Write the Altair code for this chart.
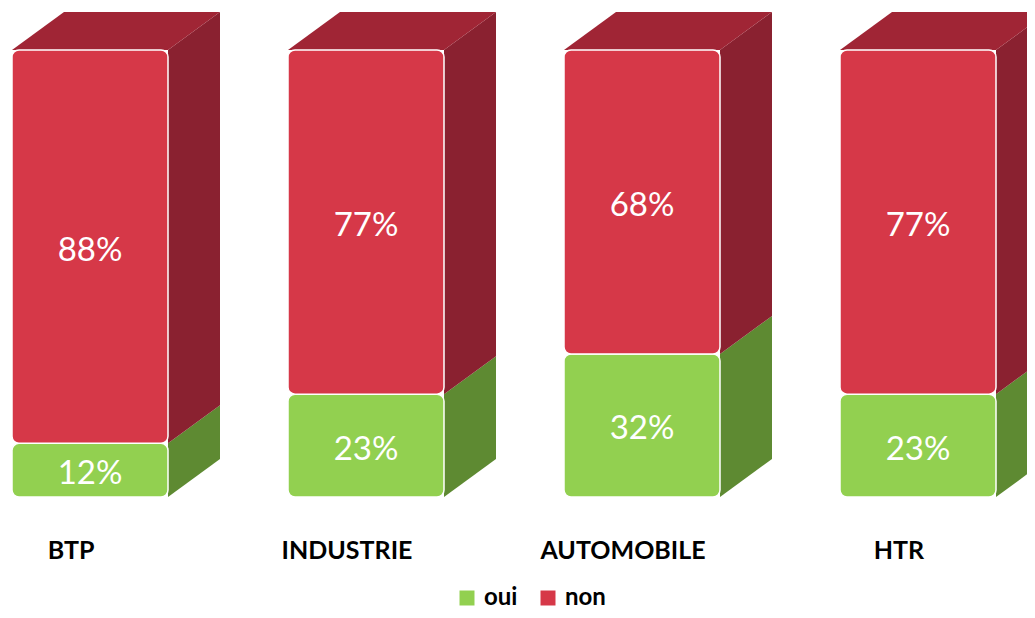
import altair as alt
import pandas as pd

categories = ["BTP", "INDUSTRIE", "AUTOMOBILE", "HTR"]
oui = [12, 23, 32, 23]
non = [88, 77, 68, 77]
series = ["oui", "non"]

GREEN, GREEN_SIDE = "#92D050", "#5E8A32"
RED, RED_SIDE, RED_TOP = "#D63848", "#8A2130", "#A02535"

HW = 0.2826   # half width of front face (category units)
DX = 0.1884   # depth offset in x
DY = 8.5      # depth offset in y (percent units)

seg, side, top = [], [], []
for i, c in enumerate(categories):
    start = 0
    vals = {"oui": oui[i], "non": non[i]}
    for s in series:
        v = vals[s]
        end = start + v
        seg.append(dict(cat=c, idx=i, series=s, start=start, end=end,
                        mid=(start + end) / 2, label=f"{v}%",
                        x=i - HW, x2=i + HW))
        side.append(dict(key=c + s, series=s, x=i + HW, lo=start, hi=end))
        side.append(dict(key=c + s, series=s, x=i + HW + DX, lo=start + DY, hi=end + DY))
        start = end
    top.append(dict(key=c, y=start, xl=i - HW, xr=i + HW))
    top.append(dict(key=c, y=start + DY, xl=i - HW + DX, xr=i + HW + DX))

seg_df = pd.DataFrame(seg)
side_df = pd.DataFrame(side)
top_df = pd.DataFrame(top)
cat_df = pd.DataFrame({"cat": categories, "idx": list(range(len(categories)))})

xs = alt.Scale(domain=[-0.2971, 3.3949], nice=False, zero=False)
ys = alt.Scale(domain=[-25.28, 109.40], nice=False, zero=False)

side_layers = []
for s, col in (("oui", GREEN_SIDE), ("non", RED_SIDE)):
    side_layers.append(
        alt.Chart(side_df).transform_filter(alt.datum.series == s)
        .mark_area(orient="vertical", clip=True)
        .encode(
            x=alt.X("x:Q", scale=xs, axis=None),
            y=alt.Y("lo:Q", scale=ys, axis=None),
            y2="hi:Q",
            detail="key:N",
            fill=alt.value(col),
        )
    )

top_layer = (
    alt.Chart(top_df)
    .mark_area(orient="horizontal", clip=True)
    .encode(
        y=alt.Y("y:Q", scale=ys, axis=None),
        x=alt.X("xl:Q", scale=xs, axis=None),
        x2="xr:Q",
        detail="key:N",
        fill=alt.value(RED_TOP),
    )
)

front = (
    alt.Chart(seg_df)
    .mark_bar(cornerRadius=7, stroke="white", strokeWidth=1.5, clip=True)
    .encode(
        x=alt.X("x:Q", scale=xs, axis=None),
        x2="x2:Q",
        y=alt.Y("start:Q", scale=ys, axis=None),
        y2="end:Q",
        fill=alt.Fill(
            "series:N",
            scale=alt.Scale(domain=series, range=[GREEN, RED]),
            sort=series,
            legend=alt.Legend(
                title=None, orient="none", direction="horizontal",
                legendX=447, legendY=578,
                symbolType="square", symbolSize=225, symbolStrokeWidth=0,
                labelFont="Lato", labelFontWeight="bold", labelFontSize=24,
                labelColor="black", columnPadding=18, labelOffset=5,
            ),
        ),
    )
)

pct = (
    alt.Chart(seg_df)
    .mark_text(font="Lato", fontSize=33, color="white", baseline="middle", dy=4)
    .encode(
        x=alt.X("idx:Q", scale=xs, axis=None),
        y=alt.Y("mid:Q", scale=ys, axis=None),
        text="label:N",
    )
)

cat_labels = (
    alt.Chart(cat_df)
    .mark_text(font="Lato", fontSize=25, fontWeight="bold", color="black",
               baseline="middle", dx=-19)
    .encode(
        x=alt.X("idx:Q", scale=xs, axis=None),
        y=alt.value(543),
        text="cat:N",
    )
)

chart = (
    alt.layer(*side_layers, top_layer, front, pct, cat_labels)
    .properties(width=1019, height=602, padding=0,
                autosize=alt.AutoSizeParams(type="none"))
    .configure_view(stroke=None)
)

chart.save("out.html", embed_options={"renderer": "svg", "actions": False})
